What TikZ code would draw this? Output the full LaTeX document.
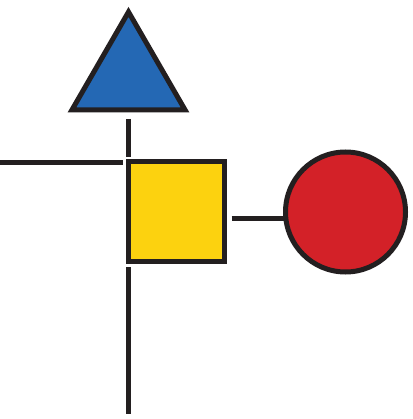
\documentclass[tikz,border=0pt]{standalone}
\usetikzlibrary{shapes.geometric}
\definecolor{inkc}{HTML}{231F20}
\definecolor{blu}{HTML}{2468B4}
\definecolor{yel}{HTML}{FCD20F}
\definecolor{rd}{HTML}{D32128}
\begin{document}
\begin{tikzpicture}[x=1pt,y=-1pt,
  gshape/.style={draw=inkc, line width=5pt, inner sep=0pt, outer sep=0pt},
  conn/.style={draw=inkc, line width=5pt}]
\useasboundingbox (0,0) rectangle (412,419);
\node[gshape, regular polygon, regular polygon sides=3, minimum size=130.5pt, fill=blu] (tri) at (128.5,77.2) {};
\node[gshape, rectangle, minimum width=96pt, minimum height=99pt, fill=yel] (sq) at (176.5,211.5) {};
\node[gshape, circle, minimum size=120pt, fill=rd] (circ) at (345.5,212) {};
\coordinate (L) at (0,162.5);
\coordinate (B) at (128.5,414);
\draw[conn] ([yshift=-9pt]tri.south) -- ([yshift=5pt]sq.north west);
\draw[conn] (L) -- ([xshift=-6pt,yshift=-0.5pt]sq.north west);
\draw[conn] ([yshift=-6pt]sq.south west) -- (B);
\draw[conn] ([xshift=7pt,yshift=-7pt]sq.east) -- ([yshift=-7pt]sq.east -| circ.west);
\end{tikzpicture}
\end{document}
